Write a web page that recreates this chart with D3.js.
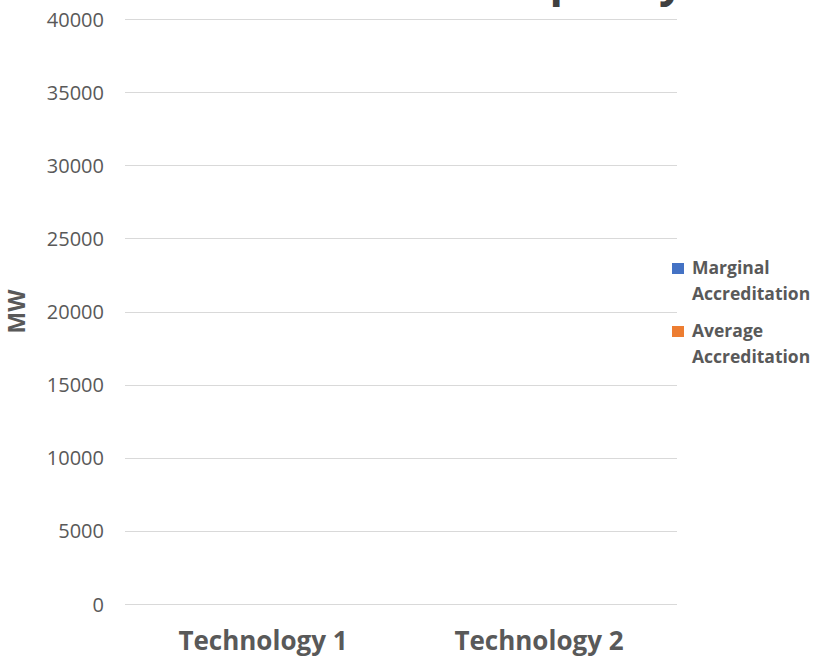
<!DOCTYPE html>
<html>
<head>
<meta charset="utf-8">
<script src="https://cdn.jsdelivr.net/npm/d3@7"></script>
<style>
  html, body { margin: 0; padding: 0; background: #ffffff; }
  svg { display: block; }
</style>
</head>
<body>
<svg id="chart" width="817" height="664"></svg>
<script>
const categories = ["Technology 1", "Technology 2"];
const seriesNames = ["Marginal Accreditation", "Average Accreditation"];
const marginalValues = [0, 0];
const averageValues = [0, 0];
const yTicks = [0, 5000, 10000, 15000, 20000, 25000, 30000, 35000, 40000];
const titleText = "Accredited Capacity";
const yAxisTitle = "MW";
const legendLines = [["Marginal", "Accreditation"], ["Average", "Accreditation"]];
const colors = ["#4472C4", "#ED7D31"];

const svg = d3.select("#chart");
const margin = { left: 125, right: 140, top: 19, bottom: 60 };
const W = 817, H = 664;
const plotW = W - margin.left - margin.right;
const plotH = H - margin.top - margin.bottom;
const textColor = "#595959";

const x = d3.scaleBand().domain(categories).range([margin.left, margin.left + plotW]).paddingInner(0).paddingOuter(0);
const xs = d3.scaleBand().domain(seriesNames).range([0, x.bandwidth()]).padding(0.2);
const y = d3.scaleLinear().domain([0, 40000]).range([margin.top + plotH, margin.top]);

// gridlines
svg.append("g").selectAll("line").data(yTicks).join("line")
  .attr("x1", margin.left).attr("x2", margin.left + plotW)
  .attr("y1", d => Math.round(y(d)) + 0.5).attr("y2", d => Math.round(y(d)) + 0.5)
  .attr("stroke", "#D9D9D9").attr("stroke-width", 1);

// y tick labels
const yAxis = d3.axisLeft(y).tickValues(yTicks).tickSize(0).tickPadding(0).tickFormat(d3.format("d"));
const gy = svg.append("g").attr("transform", `translate(${margin.left - 21},0)`).call(yAxis);
gy.select(".domain").remove();
gy.selectAll("text").attr("fill", textColor).style("font-family", "'Open Sans', sans-serif").style("font-size", "20px").attr("dy", "0.35em");

// x axis labels
const xAxis = d3.axisBottom(x).tickSize(0).tickPadding(0);
const gx = svg.append("g").attr("transform", `translate(0,${margin.top + plotH + 28})`).call(xAxis);
gx.select(".domain").remove();
gx.selectAll("text").attr("fill", textColor).style("font-family", "'Open Sans', sans-serif").style("font-size", "26px").style("font-weight", "700").attr("dy", "0.71em");

// bars
const data = categories.map((c, i) => ({ cat: c, vals: [marginalValues[i], averageValues[i]] }));
svg.append("g").selectAll("g").data(data).join("g")
  .attr("transform", d => `translate(${x(d.cat)},0)`)
  .selectAll("rect").data(d => d.vals.map((v, j) => ({ v, s: seriesNames[j], j })))
  .join("rect")
  .attr("x", d => xs(d.s)).attr("width", xs.bandwidth())
  .attr("y", d => y(d.v)).attr("height", d => y(0) - y(d.v))
  .attr("fill", d => colors[d.j]);

// title (mostly off-canvas, only descenders visible, as in the reference)
svg.append("text").attr("x", 684).attr("y", -4).attr("text-anchor", "end")
  .attr("fill", "#404040").style("font-family", "'Open Sans', sans-serif").style("font-size", "44px").style("font-weight", "700")
  .text(titleText);

// y axis title
svg.append("text").attr("transform", `translate(25,${y(20000)}) rotate(-90)`).attr("text-anchor", "middle")
  .attr("fill", textColor).style("font-family", "'Open Sans', sans-serif").style("font-size", "23px").style("font-weight", "700")
  .text(yAxisTitle);

// legend
const legendTop = [274, 337];
const lg = svg.append("g").selectAll("g").data(seriesNames).join("g");
lg.append("rect").attr("x", 672).attr("y", (d, i) => legendTop[i] - 11).attr("width", 12).attr("height", 11).attr("fill", (d, i) => colors[i]);
lg.append("text").attr("x", 692).attr("y", (d, i) => legendTop[i])
  .attr("fill", textColor).style("font-family", "'Open Sans', sans-serif").style("font-size", "17.5px").style("font-weight", "700")
  .selectAll("tspan").data((d, i) => legendLines[i]).join("tspan")
  .attr("x", 692).attr("dy", (d, k) => k === 0 ? 0 : 26).text(d => d);
</script>
</body>
</html>
